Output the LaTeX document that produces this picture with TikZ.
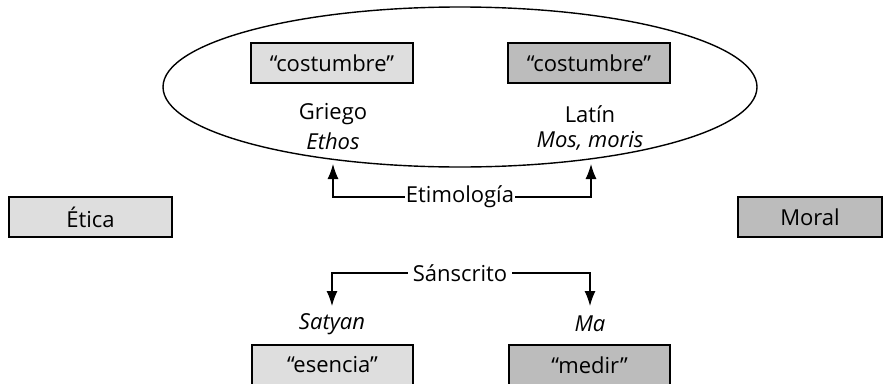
\documentclass[tikz,border=0pt]{standalone}
\usepackage{fontspec}
\setmainfont{Open Sans}
\usetikzlibrary{arrows.meta,shapes.geometric}
\definecolor{lightg}{HTML}{DEDEDE}
\definecolor{darkg}{HTML}{BCBCBC}
\begin{document}
\begin{tikzpicture}[x=1pt,y=-1pt,
  every node/.style={font=\fontsize{22}{26}\selectfont, inner sep=0pt},
  wbox/.style={draw, line width=1.2pt, minimum width=#1, minimum height=40pt},
  lbox/.style={wbox=#1, fill=lightg},
  dbox/.style={wbox=#1, fill=darkg},
  conn/.style={line width=1.2pt},
  arr/.style={conn, -{Latex[length=15pt,width=11pt]}},
  lbl/.style={fill=white, inner sep=2pt}]
\useasboundingbox (0,0) rectangle (890,383);
\node[draw, ellipse, line width=1.4pt, minimum width=594pt, minimum height=160pt] (ell) at (460,87) {};
\node[lbox=162pt] (c1) at (332,63) {“costumbre”};
\node[dbox=162pt] (c2) at (589,63) {“costumbre”};
\node (gr) at (333,114) {Griego};
\node (eth) at (333,141) {\itshape Ethos};
\node (la) at (590,114) {Latín};
\node (mos) at (590,141) {\itshape Mos, moris};
\node[lbox=163pt] (etica) at (90.5,217) {Ética};
\node[dbox=144pt] (moral) at (810,217) {Moral};
\node[lbl, inner xsep=1pt] (eti) at (460,197) {Etimología};
\coordinate (ta) at (333,164);
\coordinate (tb) at (591,164);
\draw[arr] (eti.west) -| (ta);
\draw[arr] (eti.east) -| (tb);
\node[lbl, inner xsep=5pt] (san) at (460,273) {Sánscrito};
\node (sat) at (332,324) {\itshape Satyan};
\node (ma) at (590,324) {\itshape Ma};
\coordinate (sa) at (332,306);
\coordinate (mb) at (590,306);
\draw[arr] (san.west) -| (sa);
\draw[arr] (san.east) -| (mb);
\node[lbox=161pt] (es) at (332.5,365) {“esencia”};
\node[dbox=161pt] (me) at (589.5,365) {“medir”};
\end{tikzpicture}
\end{document}
